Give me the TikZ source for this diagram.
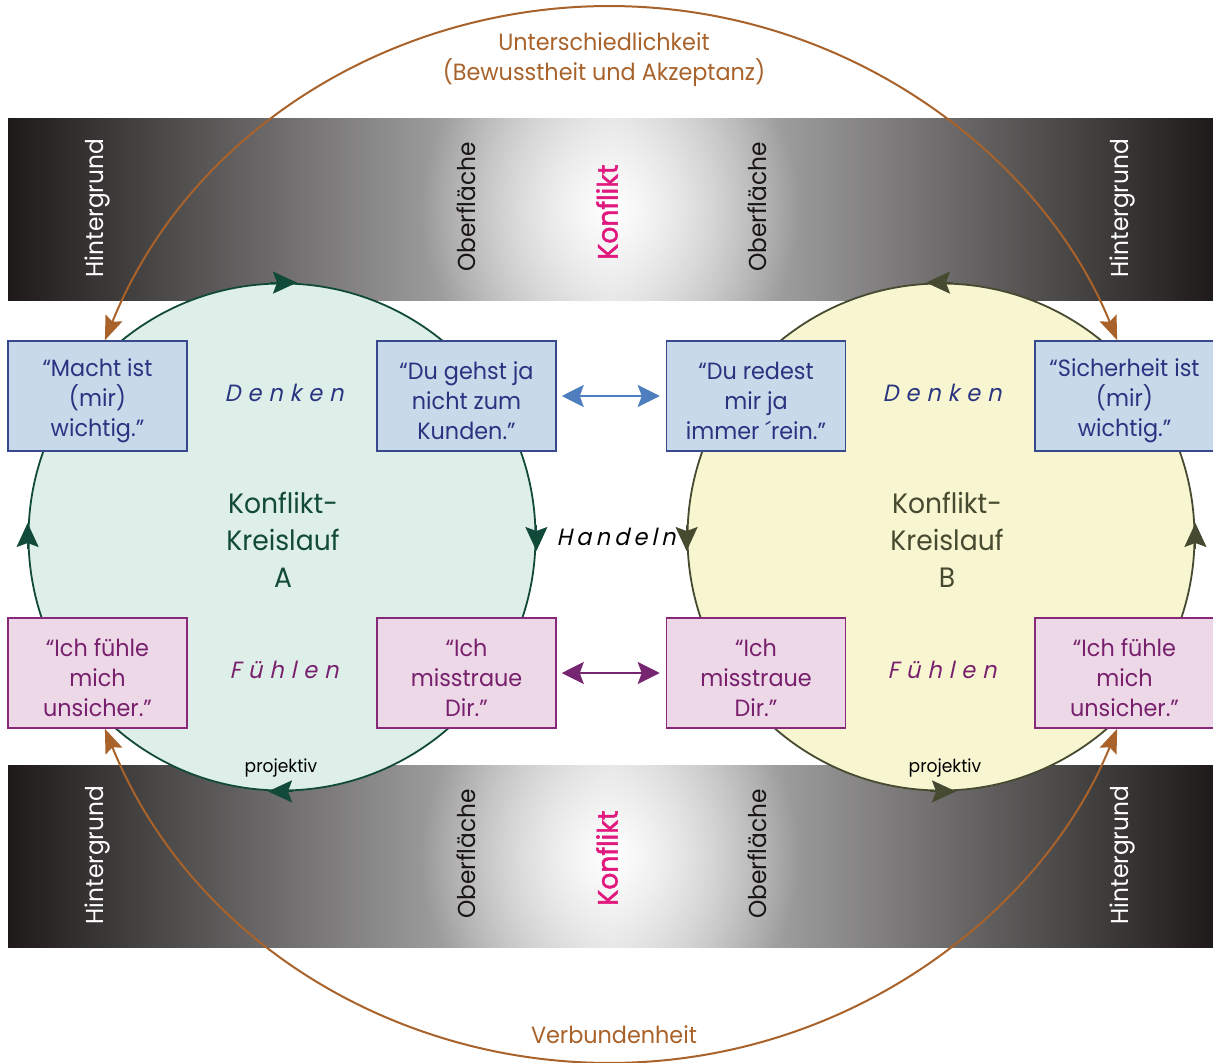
\documentclass[tikz,border=0pt]{standalone}
\usepackage{fontspec}
\setmainfont{Poppins}[FakeStretch=0.95]
\newfontfamily\spacedfont{Poppins}[FakeStretch=0.95, FakeSlant=0.22, LetterSpace=30]
\newfontfamily\hspacedfont{Poppins}[FakeStretch=0.95, FakeSlant=0.22, LetterSpace=18]
\newfontfamily\konffont{Poppins}[FakeStretch=0.95, BoldFont={Poppins}, BoldFeatures={FakeBold=1.6}]
\newcommand\ftopstrut{\rule{0pt}{27pt}}
\usetikzlibrary{arrows.meta, fadings}
\definecolor{bandDark}{RGB}{30,26,26}
\definecolor{bandMid}{RGB}{208,208,208}
\definecolor{circAfill}{RGB}{222,238,232}
\definecolor{circAline}{RGB}{18,74,58}
\definecolor{circBfill}{RGB}{248,246,208}
\definecolor{circBline}{RGB}{70,74,48}
\definecolor{boxBlueFill}{RGB}{200,217,234}
\definecolor{boxBlueLine}{RGB}{56,72,140}
\definecolor{blueText}{RGB}{40,52,128}
\definecolor{boxPinkFill}{RGB}{236,216,230}
\definecolor{boxPinkLine}{RGB}{135,40,120}
\definecolor{pinkText}{RGB}{120,32,110}
\definecolor{brownC}{RGB}{168,98,42}
\definecolor{arrowBlue}{RGB}{79,126,190}
\definecolor{arrowPurple}{RGB}{118,38,112}
\definecolor{konfliktC}{RGB}{225,24,125}
\definecolor{oberC}{RGB}{25,20,20}
\tikzfading[name=radfade, inner color=transparent!0, outer color=transparent!100]
\begin{document}
\begin{tikzpicture}[x=1pt, y=-1pt,
  blubox/.style={draw=boxBlueLine, fill=boxBlueFill, line width=1.5pt, minimum width=179pt, minimum height=110pt, inner sep=0pt, align=center, text=blueText, font=\fontsize{23.5}{30}\selectfont},
  pinkbox/.style={draw=boxPinkLine, fill=boxPinkFill, line width=1.5pt, minimum width=179pt, minimum height=110pt, inner sep=0pt, align=center, text=pinkText, font=\fontsize{23.5}{30}\selectfont},
  bandlabel/.style={rotate=90, font=\fontsize{24.5}{30}\selectfont, inner sep=0pt},
  konflabel/.style={rotate=90, font=\konffont\bfseries\fontsize{28}{30}\selectfont, inner sep=0pt, text=konfliktC},
  ring/.style={circle, minimum size=507pt, inner sep=0pt, line width=1.8pt},
  tipA/.style={circAline, line width=1.8pt, -{Stealth[length=24pt, width=22pt, inset=4pt]}},
  tipB/.style={circBline, line width=1.8pt, -{Stealth[length=24pt, width=22pt, inset=4pt]}},
  brownarr/.style={brownC, line width=2pt, {Stealth[length=24pt, width=18pt, inset=4pt]}-{Stealth[length=24pt, width=18pt, inset=4pt]}},
  dblarr/.style={line width=2.2pt, {Stealth[length=22pt, width=22pt, inset=4pt]}-{Stealth[length=22pt, width=22pt, inset=4pt]}},
  wordlbl/.style={inner sep=0pt, font=\spacedfont\fontsize{23.5}{28}\selectfont}
]
\useasboundingbox (0,0) rectangle (1213,1063);
\fill[white] (0,0) rectangle (1213,1063);

% bands
\shade[left color=bandDark, right color=bandMid] (8,118) rectangle (611,300);
\shade[left color=bandMid, right color=bandDark] (610,118) rectangle (1214,300);
\begin{scope}
\clip (8,118) rectangle (1214,300);
\fill[white, path fading=radfade] (610,209) circle (190);
\end{scope}
\shade[left color=bandDark, right color=bandMid] (8,765) rectangle (611,947);
\shade[left color=bandMid, right color=bandDark] (610,765) rectangle (1214,947);
\begin{scope}
\clip (8,765) rectangle (1214,947);
\fill[white, path fading=radfade] (610,856) circle (190);
\end{scope}

\node[bandlabel, text=white] (ht1) at (97,208) {Hintergrund};
\node[bandlabel, text=oberC] (ot1) at (466,207) {Oberfläche};
\node[konflabel] (kt) at (607,212) {Konflikt};
\node[bandlabel, text=oberC] (ot2) at (757,207) {Oberfläche};
\node[bandlabel, text=white] (ht2) at (1122,208) {Hintergrund};
\node[bandlabel, text=white] (hb1) at (97,855) {Hintergrund};
\node[bandlabel, text=oberC] (ob1) at (466,854) {Oberfläche};
\node[konflabel] (kb) at (607,858) {Konflikt};
\node[bandlabel, text=oberC] (ob2) at (757,854) {Oberfläche};
\node[bandlabel, text=white] (hb2) at (1122,855) {Hintergrund};

% circles
\node[ring, draw=circAline, fill=circAfill] (cA) at (282,537) {};
\node[ring, draw=circBline, fill=circBfill] (cB) at (941,537) {};

\draw[tipA] ([xshift=-12pt]cA.north) -- ([xshift=15pt]cA.north);
\draw[tipA] ([yshift=12pt]cA.east) -- ([yshift=-14pt]cA.east);
\draw[tipA] ([xshift=11pt]cA.south) -- ([xshift=-14pt]cA.south);
\draw[tipA] ([yshift=-12pt]cA.west) -- ([yshift=14pt]cA.west);
\draw[tipB] ([xshift=12pt]cB.north) -- ([xshift=-15pt]cB.north);
\draw[tipB] ([yshift=12pt]cB.west) -- ([yshift=-14pt]cB.west);
\draw[tipB] ([xshift=-11pt]cB.south) -- ([xshift=15pt]cB.south);
\draw[tipB] ([yshift=-12pt]cB.east) -- ([yshift=14pt]cB.east);

\node[align=center, text=circAline, font=\fontsize{28}{37}\selectfont] (kA) at (283,540) {Konflikt-\\Kreislauf\\A};
\node[align=center, text=circBline, font=\fontsize{28}{37}\selectfont] (kB) at (947,540) {Konflikt-\\Kreislauf\\B};

\node[font=\fontsize{18}{20}\selectfont, text=black] (pA) at (281,768) {projektiv};
\node[font=\fontsize{18}{20}\selectfont, text=black] (pB) at (945,768) {projektiv};

\node[wordlbl, text=blueText] (dA) at (284,393) {Denken};
\node[wordlbl, text=blueText] (dB) at (942,393) {Denken};
\node[wordlbl, text=pinkText] (fA) at (284,670) {Fühlen};
\node[wordlbl, text=pinkText] (fB) at (942,670) {Fühlen};
\node[inner sep=0pt, font=\hspacedfont\fontsize{23.5}{28}\selectfont, text=black] (hd) at (616,537) {Handeln};

% boxes
\node[blubox] (m1) at (97.5,396) {\ftopstrut“Macht ist\\(mir)\\wichtig.”};
\node[blubox] (m2) at (466.5,396) {\ftopstrut“Du gehst ja\\nicht zum\\Kunden.”};
\node[blubox] (m3) at (756,396) {\ftopstrut“Du redest\\mir ja\\immer ´rein.”};
\node[blubox] (m4) at (1124.5,396) {\ftopstrut“Sicherheit ist\\(mir)\\wichtig.”};
\node[pinkbox] (p1) at (97.5,673) {\ftopstrut“Ich fühle\\mich\\unsicher.”};
\node[pinkbox] (p2) at (466.5,673) {\ftopstrut“Ich\\misstraue\\Dir.”};
\node[pinkbox] (p3) at (756,673) {\ftopstrut“Ich\\misstraue\\Dir.”};
\node[pinkbox] (p4) at (1124.5,673) {\ftopstrut“Ich fühle\\mich\\unsicher.”};

\draw[dblarr, arrowBlue] ([xshift=5pt]m2.east) -- ([xshift=-6pt]m3.west);
\draw[dblarr, arrowPurple] ([xshift=5pt]p2.east) -- ([xshift=-6pt]p3.west);

% brown arcs
\draw[brownarr] ([xshift=7.4pt]m1.north) arc[start angle=-158.5, end angle=-21.5, x radius=544, y radius=527];
\draw[brownarr] ([xshift=7.4pt]p1.south) arc[start angle=158.5, end angle=21.5, x radius=544, y radius=527];

\node[align=center, text=brownC, font=\fontsize{23.5}{30}\selectfont] (ut) at (604,60) {Unterschiedlichkeit\\(Bewusstheit und Akzeptanz)};
\node[text=brownC, font=\fontsize{23.5}{30}\selectfont] (vb) at (614,1035) {Verbundenheit};
\end{tikzpicture}
\end{document}
